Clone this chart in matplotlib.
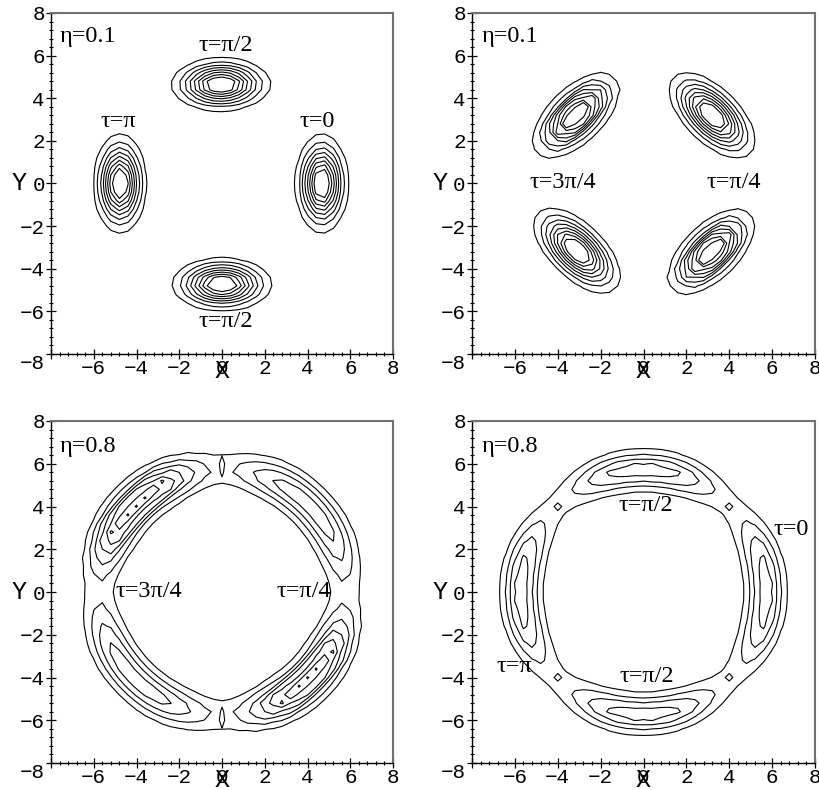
import numpy as np
import matplotlib
matplotlib.use("Agg")
import matplotlib.pyplot as plt
from matplotlib.ticker import MultipleLocator, FixedLocator, FixedFormatter
import matplotlib.transforms as mtransforms

# grid the density was sampled on (coarse, 0.4 step like the original plot)
grid_n = 41
grid_lim = 8.0

# --- eta = 0.1 panels: isolated packets (cx, cy, sigma_tangential, sigma_radial, jitter)
p1_cx = [4.67, -4.77, -0.05, 0.0]
p1_cy = [0.0, 0.0, 4.65, -4.73]
p1_st = [1.08, 1.08, 1.08, 1.08]
p1_sr = [0.57, 0.57, 0.57, 0.57]
p1_jit = [0.0, 0.0, 0.0, 0.0]

p2_cx = [3.2, -3.15, -3.1, 3.15]
p2_cy = [3.2, 3.2, -3.15, -3.2]
p2_st = [1.18, 1.18, 1.18, 1.18]
p2_sr = [0.58, 0.58, 0.58, 0.58]
p2_jit = [0.0, 0.08, 0.0, 0.08]

low_levels = [0.1, 0.2, 0.3, 0.4, 0.5, 0.6, 0.7, 0.8]

# --- eta = 0.8 panels: ring with angular maxima
p3_r0, p3_sr, p3_base = 5.75, 0.6, 0.8
p3_ang = [45, 135, 225, 315]
p3_amp = [3.8, 6.0, 3.8, 6.0]
p3_w = [29.5, 25.5, 29.5, 25.5]
p3_jit = [0.0, 0.08, 0.0, 0.08]
p3_hole_x = [0.0, 0.0, 0.0, 0.0]
p3_hole_y = [5.6, 6.0, -5.6, -6.0]
p3_hole_depth = 1.0

p4_r0, p4_sr, p4_base = 5.7, 0.56, 1.05
p4_ang = [0, 90, 180, 270]
p4_amp = [3.6, 3.6, 3.6, 3.6]
p4_w = [25.5, 25.5, 25.5, 25.5]
p4_jit = [0.03, 0.03, 0.03, 0.03]
p4_hole_x = [-4.0, 4.0, -4.0, 4.0]
p4_hole_y = [4.0, 4.0, -4.0, -4.0]
p4_hole_depth = 0.8

high_levels = [1, 2, 3, 4, 5, 6, 7]

# text annotations
p1_text = [(0.19, 6.48, "τ=π/2"), (-4.86, 2.89, "τ=π"), (4.47, 2.89, "τ=0"),
           (0.19, -6.48, "τ=π/2")]
p2_text = [(-3.78, 0.04, "τ=3π/4"), (4.19, 0.04, "τ=π/4")]
p3_text = [(-3.44, 0.03, "τ=3π/4"), (3.83, 0.03, "τ=π/4")]
p4_text = [(0.11, 4.07, "τ=π/2"), (6.9, 2.91, "τ=0"), (-6.05, -3.48, "τ=π"),
           (0.15, -3.95, "τ=π/2")]
eta_text = ["η=0.1", "η=0.1", "η=0.8", "η=0.8"]

xs = np.linspace(-grid_lim, grid_lim, grid_n)
X, Y = np.meshgrid(xs, xs)
checker = (-1.0) ** (np.add.outer(np.arange(grid_n), np.arange(grid_n)))


def packet(cx, cy, st, sr):
    phi = np.arctan2(cy, cx)
    dr = (X - cx) * np.cos(phi) + (Y - cy) * np.sin(phi)
    dt = -(X - cx) * np.sin(phi) + (Y - cy) * np.cos(phi)
    return np.exp(-0.5 * (dr / sr) ** 2 - 0.5 * (dt / st) ** 2)


def packets(cx, cy, st, sr, jit):
    Z = np.zeros_like(X)
    for a, b, c, d, j in zip(cx, cy, st, sr, jit):
        Z += packet(a, b, c, d) * (1 + j * checker)
    return Z


def ring(r0, sr, base, ang, amp, w, jit, hx, hy, depth):
    r = np.hypot(X, Y)
    th = np.degrees(np.arctan2(Y, X))
    R = np.exp(-0.5 * ((r - r0) / sr) ** 2)
    A = np.full_like(X, base)
    for a0, am, ww, j in zip(ang, amp, w, jit):
        d = (th - a0 + 180) % 360 - 180
        A += am * np.exp(-0.5 * np.abs(d / ww) ** 3) * (1 + j * checker)
    Z = A * R
    for a, b in zip(hx, hy):
        Z -= depth * np.exp(-0.5 * ((X - a) ** 2 + (Y - b) ** 2) / 0.12 ** 2)
    return Z


fields = [
    (packets(p1_cx, p1_cy, p1_st, p1_sr, p1_jit), low_levels, p1_text),
    (packets(p2_cx, p2_cy, p2_st, p2_sr, p2_jit), low_levels, p2_text),
    (ring(p3_r0, p3_sr, p3_base, p3_ang, p3_amp, p3_w, p3_jit,
          p3_hole_x, p3_hole_y, p3_hole_depth), high_levels, p3_text),
    (ring(p4_r0, p4_sr, p4_base, p4_ang, p4_amp, p4_w, p4_jit,
          p4_hole_x, p4_hole_y, p4_hole_depth), high_levels, p4_text),
]

W, H = 819, 790
boxes = [(51, 13, 393, 354), (472, 13, 815, 354), (51, 421, 393, 763), (472, 421, 815, 763)]

fig = plt.figure(figsize=(W / 100, H / 100), dpi=100)
mono = "Liberation Mono"
serif = "Liberation Serif"

for k, ((Z, levels, labels), (x0, y0, x1, y1)) in enumerate(zip(fields, boxes)):
    ax = fig.add_axes([x0 / W, 1 - y1 / H, (x1 - x0) / W, (y1 - y0) / H])
    ax.contour(X, Y, Z, levels=levels, colors="black", linewidths=0.8)
    ax.set_xlim(-8, 8)
    ax.set_ylim(-8, 8)

    ticks = list(range(-8, 9, 2))
    ax.xaxis.set_major_locator(FixedLocator(ticks))
    ax.yaxis.set_major_locator(FixedLocator(ticks))
    ax.xaxis.set_major_formatter(FixedFormatter([""] + [str(t).replace("-", "\u2212") for t in ticks[1:]]))
    ax.yaxis.set_major_formatter(FixedFormatter([str(t).replace("-", "\u2212") for t in ticks]))
    ax.xaxis.set_minor_locator(MultipleLocator(0.4))
    ax.yaxis.set_minor_locator(MultipleLocator(0.4))
    ax.tick_params(which="major", direction="inout", length=7, width=0.9,
                   labelsize=15, top=False, right=False)
    ax.tick_params(which="minor", direction="inout", length=3.5, width=0.8,
                   top=False, right=False)
    ax.tick_params(axis="x", which="major", pad=0)
    ax.tick_params(axis="y", which="major", pad=1)
    for lab in ax.get_xticklabels() + ax.get_yticklabels():
        lab.set_fontfamily(mono)
    # the -8 of the y axis sits a little below the corner
    ax.get_yticklabels()[0].set_verticalalignment("top")

    for side in ("top", "right"):
        ax.spines[side].set_color("#707070")
        ax.spines[side].set_linewidth(1.5)
    for side in ("left", "bottom"):
        ax.spines[side].set_color("black")
        ax.spines[side].set_linewidth(1.0)

    # axis names sit right against the axes, as in the original
    ax.text(-32 / (x1 - x0), 0.5, "Y", transform=ax.transAxes, fontsize=18,
            family=mono, ha="center", va="center")
    tr = mtransforms.blended_transform_factory(ax.transData, ax.transAxes)
    ax.text(0, -17 / (y1 - y0), "X", transform=tr, fontsize=18, family=mono,
            ha="center", va="center")

    ax.text(-7.6 if k % 2 == 0 else -7.53, 6.88 if k < 2 else 6.8, eta_text[k],
            fontsize=17.5, family=serif, ha="left", va="center")
    for tx, ty, s in labels:
        ax.text(tx, ty, s, fontsize=17.5, family=serif, ha="center", va="center")

fig.savefig("out.png", dpi=100)
